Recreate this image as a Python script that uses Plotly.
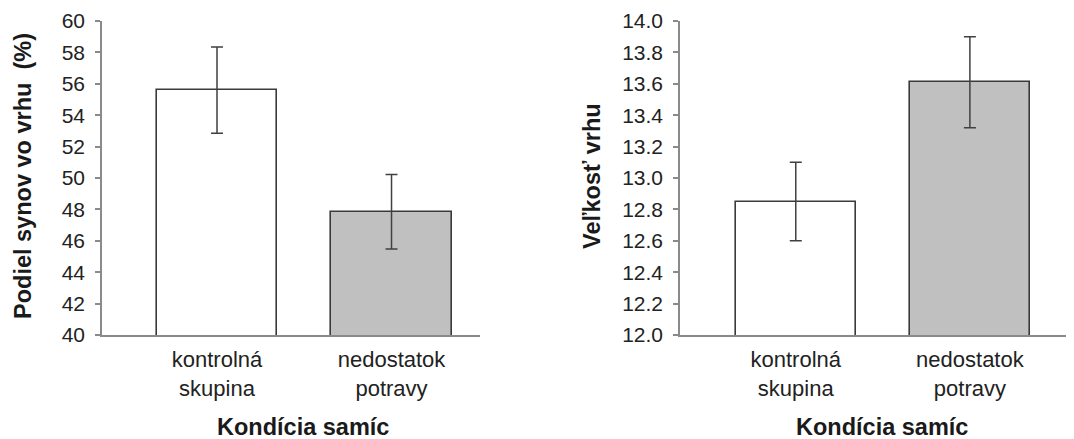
import plotly.graph_objects as go

categories = ["kontrolná<br>skupina", "nedostatok<br>potravy"]
sons_share = [55.6, 47.85]
sons_err = [2.75, 2.38]
litter_size = [12.85, 13.61]
litter_err = [0.25, 0.29]
bar_colors = ["#ffffff", "#c0c0c0"]
left_ticks = list(range(40, 61, 2))
right_ticks = [12.0 + 0.2 * i for i in range(11)]

# page body has an 8px margin; build the figure so it fits the window exactly
OFF = 8
W, H = 1074 - OFF, 439 - OFF


def px(x):
    return (x - OFF) / W


def py(y):
    return (H - (y - OFF)) / H


fig = go.Figure()

xpos = [0, 1]
fig.add_trace(go.Bar(
    x=xpos, y=sons_share, width=0.69,
    marker=dict(color=bar_colors, line=dict(color="#3a3a3a", width=1.6)),
    error_y=dict(type="data", array=sons_err, color="#404040", thickness=1.5, width=6),
    xaxis="x", yaxis="y", showlegend=False,
))
fig.add_trace(go.Bar(
    x=xpos, y=litter_size, width=0.69,
    marker=dict(color=bar_colors, line=dict(color="#3a3a3a", width=1.6)),
    error_y=dict(type="data", array=litter_err, color="#404040", thickness=1.5, width=6),
    xaxis="x2", yaxis="y2", showlegend=False,
))

ydom = [py(335), py(21)]
font_num = dict(family="Liberation Sans, Arial, sans-serif", size=21, color="#222222")
font_cat = dict(family="Liberation Sans, Arial, sans-serif", size=22, color="#222222")
axis_common = dict(showline=True, linecolor="#8a8a8a", linewidth=1.5, showgrid=False,
                   zeroline=False, automargin=False)

fig.update_layout(
    width=W, height=H,
    margin=dict(l=0, r=0, t=0, b=0),
    paper_bgcolor="white", plot_bgcolor="white",
    bargap=0,
    xaxis=dict(domain=[px(102), px(480)], range=[-0.659, 1.507], tickvals=xpos, ticktext=categories,
               ticks="", tickfont=font_cat, ticklabelstandoff=4, anchor="y", **axis_common),
    yaxis=dict(domain=ydom, range=[40, 60], tickvals=left_ticks, ticks="outside", ticklen=5,
               tickcolor="#8a8a8a", tickwidth=1.5, tickfont=font_num, ticklabelstandoff=6,
               anchor="x", **axis_common),
    xaxis2=dict(domain=[px(680), 1.0], range=[-0.665, 1.598], tickvals=xpos, ticktext=categories,
                ticks="", tickfont=font_cat, ticklabelstandoff=4, anchor="y2", **axis_common),
    yaxis2=dict(domain=ydom, range=[12, 14], tickvals=right_ticks, tickformat=".1f", ticks="outside",
                ticklen=5, tickcolor="#8a8a8a", tickwidth=1.5, tickfont=font_num, ticklabelstandoff=6,
                anchor="x2", **axis_common),
)

title_font = dict(family="Liberation Sans, Arial, sans-serif", size=23.5, color="#1a1a1a")
ann = [
    dict(text="<b>Podiel synov vo vrhu \u00a0(%)</b>", x=px(23), y=py(176), textangle=-90),
    dict(text="<b>Veľkosť vrhu</b>", x=px(592), y=py(176), textangle=-90),
    dict(text="<b>Kondícia samíc</b>", x=px(303), y=py(427), textangle=0),
    dict(text="<b>Kondícia samíc</b>", x=px(882), y=py(427), textangle=0),
]
for a in ann:
    fig.add_annotation(xref="paper", yref="paper", showarrow=False, xanchor="center", yanchor="middle",
                       font=title_font, **a)

fig.write_html("out.html")
